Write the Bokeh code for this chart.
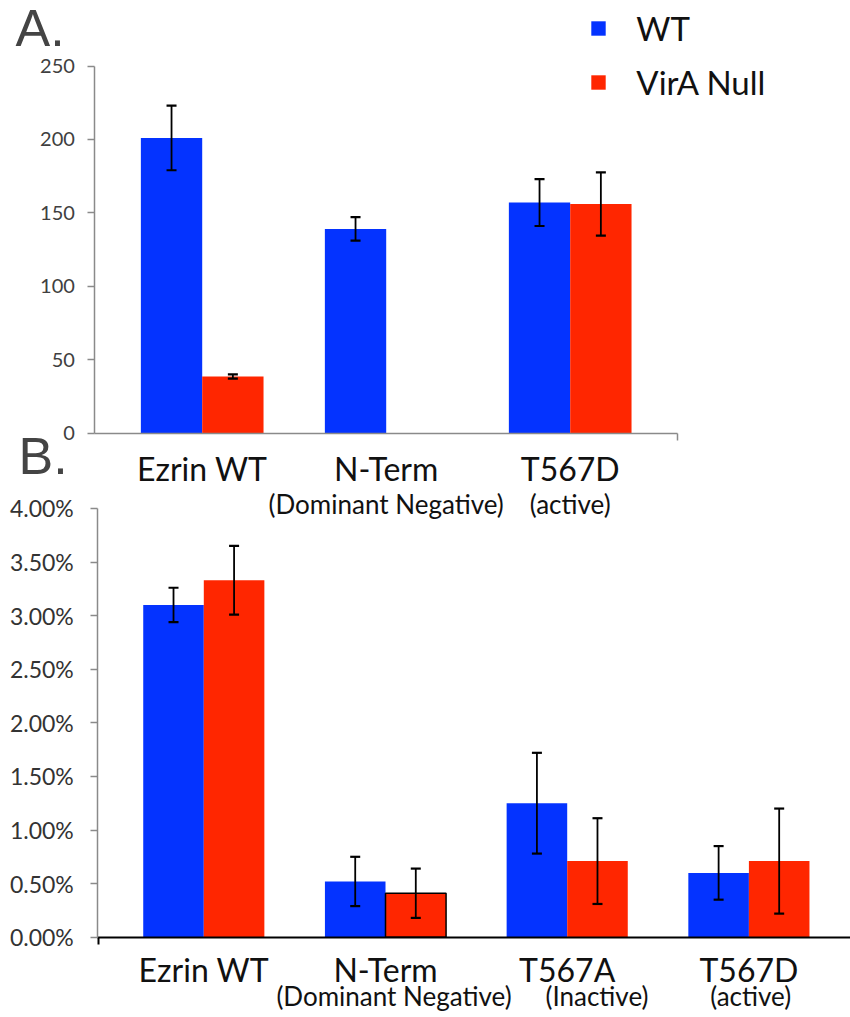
import math
from bokeh.plotting import figure
from bokeh.models import (Range1d, LinearAxis, FixedTicker, Legend, LegendItem,
                          Label, ColumnDataSource)
from bokeh.embed import file_html
from bokeh.resources import INLINE

nan = float("nan")

# ---------------- data ----------------
series_names = ["WT", "VirA Null"]

# Panel A
a_categories = ["Ezrin WT", "N-Term", "T567D"]
a_sublabels = ["", "(Dominant Negative)", "(active)"]
a_wt = [201.0, 139.0, 157.0]
a_wt_err = [22.0, 8.0, 16.0]
a_null = [38.5, nan, 156.0]
a_null_err = [1.5, nan, 21.5]
a_yticks = [0, 50, 100, 150, 200, 250]
a_ytick_labels = ["0", "50", "100", "150", "200", "250"]

# Panel B (percent)
b_categories = ["Ezrin WT", "N-Term", "T567A", "T567D"]
b_sublabels = ["", "(Dominant Negative)", "(Inactive)", "(active)"]
b_wt = [3.10, 0.52, 1.25, 0.60]
b_wt_err = [0.16, 0.23, 0.47, 0.25]
b_null = [3.33, 0.41, 0.71, 0.71]
b_null_err = [0.32, 0.23, 0.40, 0.49]
b_yticks = [0, 0.5, 1.0, 1.5, 2.0, 2.5, 3.0, 3.5, 4.0]
b_ytick_labels = ["0.00%", "0.50%", "1.00%", "1.50%", "2.00%", "2.50%",
                  "3.00%", "3.50%", "4.00%"]

# ---------------- styles / geometry ----------------
BLUE = "#0433FF"
RED = "#FF2600"
FONT = "Lato"
W, H = 850, 1016
OX, OY = 0, 0

A_X0, A_PPX = 201.7, 184.0     # page px of category 0 centre, px per category
A_Y0, A_PPY = 432.5, 1.468     # page px of value 0, px per unit
B_X0, B_PPX = 203.3, 181.7
B_Y0, B_PPY = 936.7, 107.2
BAR_W = 1.0 / 3.0
EDGE = 0.5 + 1.0 / 12.0        # axis overhang beyond the outer categories
LABEL_DROP = 23                # observed offset of alphabetic baseline labels


def xr(zero_page, ppu):
    z = zero_page - OX
    return Range1d(-z / ppu, (W - z) / ppu)


def yr(zero_page, ppu):
    z = zero_page - OY
    return Range1d(-(H - z) / ppu, z / ppu)


p = figure(width=W, height=H, x_range=xr(B_X0, B_PPX), y_range=yr(B_Y0, B_PPY),
           x_axis_location=None, y_axis_location=None, toolbar_location=None,
           output_backend="svg", min_border=0, title_location=None)
p.outline_line_color = None
p.background_fill_color = "white"
p.border_fill_color = "white"
p.grid.visible = False
p.extra_x_ranges = {"xa": xr(A_X0, A_PPX)}
p.extra_y_ranges = {"ya": yr(A_Y0, A_PPY)}

RA = dict(x_range_name="xa", y_range_name="ya")


def bars(cats, vals, offset, color, rn, line_alpha=None):
    xs = [i + offset for i in range(len(cats))]
    data = dict(x=xs, top=vals)
    kw = dict(line_color=None)
    if line_alpha is not None:
        data["la"] = line_alpha
        kw = dict(line_color="black", line_alpha="la", line_width=1.5)
    src = ColumnDataSource(data)
    return p.vbar(x="x", top="top", bottom=0, width=BAR_W, source=src,
                  fill_color=color, **kw, **rn)


def errbars(cats, vals, errs, offset, rn):
    xs = [i + offset for i in range(len(cats))]
    lo = [v - e for v, e in zip(vals, errs)]
    hi = [v + e for v, e in zip(vals, errs)]
    p.segment(x0=xs, y0=lo, x1=xs, y1=hi, line_color="black", line_width=1.8, **rn)
    p.scatter(x=xs + xs, y=lo + hi, marker="dash", size=10, line_color="black",
              line_width=2.2, **rn)


# Panel A bars
ra_wt = bars(a_categories, a_wt, -1 / 6, BLUE, RA)
ra_null = bars(a_categories, a_null, 1 / 6, RED, RA)
errbars(a_categories, a_wt, a_wt_err, -1 / 6, RA)
errbars(a_categories, a_null, a_null_err, 1 / 6, RA)

# Panel B bars (the N-Term VirA Null bar carries a dark outline)
RB = {}
bars(b_categories, b_wt, -1 / 6, BLUE, RB)
bars(b_categories, b_null, 1 / 6, RED, RB,
     line_alpha=[1.0 if c == "N-Term" else 0.0 for c in b_categories])
errbars(b_categories, b_wt, b_wt_err, -1 / 6, RB)
errbars(b_categories, b_null, b_null_err, 1 / 6, RB)


def axis(side, ticks, labels=None, **kw):
    ax = LinearAxis(ticker=FixedTicker(ticks=list(ticks), minor_ticks=[]), **kw)
    ax.minor_tick_line_color = None
    if labels is not None:
        ax.major_label_overrides = {t: l for t, l in zip(ticks, labels)}
    else:
        ax.major_label_text_color = None
    p.add_layout(ax, side)
    return ax


GRAY = "#8a8a8a"
na = len(a_categories)
nb = len(b_categories)

# ---- Panel A axes ----
axis("left", a_yticks, a_ytick_labels, fixed_location=-EDGE, bounds=(0, 250),
     axis_line_color=GRAY, axis_line_width=1.5, major_tick_line_color=GRAY,
     major_tick_line_width=1.5, major_tick_out=7, major_tick_in=0,
     major_label_text_font=FONT, major_label_text_font_size="20px",
     major_label_text_color="#404040", major_label_standoff=13, **RA)
axis("below", [na - 1 + EDGE - 0.002], None, fixed_location=0,
     bounds=(-EDGE, na - 1 + EDGE), axis_line_color=GRAY, axis_line_width=1.5,
     major_tick_line_color=GRAY, major_tick_line_width=1.5, major_tick_out=7,
     major_tick_in=0, **RA)
axis("below", list(range(na)), a_categories, fixed_location=0,
     axis_line_color=None, major_tick_line_color=None, major_tick_out=0,
     major_tick_in=0, major_label_standoff=16, major_label_text_font=FONT,
     major_label_text_font_size="32px", major_label_text_color="#111111", **RA)
a_sub_pos = [i for i, s in enumerate(a_sublabels) if s]
axis("below", a_sub_pos, [a_sublabels[i] for i in a_sub_pos], fixed_location=0,
     axis_line_color=None, major_tick_line_color=None, major_tick_out=0,
     major_tick_in=0, major_label_standoff=55, major_label_text_font=FONT,
     major_label_text_font_size="26px", major_label_text_color="#111111", **RA)

# ---- Panel B axes ----
axis("left", b_yticks, b_ytick_labels, fixed_location=-EDGE, bounds=(0, 4),
     axis_line_color=GRAY, axis_line_width=1.5, major_tick_line_color=GRAY,
     major_tick_line_width=1.5, major_tick_out=7, major_tick_in=0,
     major_label_text_font=FONT, major_label_text_font_size="23px",
     major_label_text_color="#333333", major_label_standoff=17)
axis("below", [-EDGE + 0.003], None, fixed_location=0,
     bounds=(-EDGE, nb - 1 + EDGE), axis_line_color="black", axis_line_width=2.2,
     major_tick_line_color="black", major_tick_line_width=2, major_tick_out=7,
     major_tick_in=0)
axis("below", list(range(nb)), b_categories, fixed_location=0,
     axis_line_color=None, major_tick_line_color=None, major_tick_out=0,
     major_tick_in=0, major_label_standoff=13, major_label_text_font=FONT,
     major_label_text_font_size="32px", major_label_text_color="#111111")
b_sub_shift = {1: 0.047, 2: 0.164, 3: 0.01}
b_sub_pos = [i for i, s in enumerate(b_sublabels) if s]
axis("below", [i + b_sub_shift[i] for i in b_sub_pos],
     [b_sublabels[i] for i in b_sub_pos], fixed_location=0,
     axis_line_color=None, major_tick_line_color=None, major_tick_out=0,
     major_tick_in=0, major_label_standoff=43, major_label_text_font=FONT,
     major_label_text_font_size="26px", major_label_text_color="#111111")

# ---- panel letters ----
p.add_layout(Label(x=(15 - A_X0) / A_PPX, y=(A_Y0 - (50 - LABEL_DROP)) / A_PPY,
                   text="A.", text_font="Liberation Sans", text_font_size="52px",
                   text_baseline="alphabetic", text_align="left", **RA))
p.add_layout(Label(x=(18 - B_X0) / B_PPX, y=(B_Y0 - (478.3 - LABEL_DROP)) / B_PPY,
                   text="B.", text_font="Liberation Sans", text_font_size="52px",
                   text_baseline="alphabetic", text_align="left"))

# ---- legend ----
LEG_H = 94
legend = Legend(items=[LegendItem(label=series_names[0], renderers=[ra_wt]),
                       LegendItem(label=series_names[1], renderers=[ra_null])],
                location=(589.3 - OX, H - (7.8 - OY) - LEG_H), orientation="vertical",
                glyph_width=18, glyph_height=18, label_standoff=29,
                label_height=40, spacing=14, padding=0, margin=0,
                label_text_font=FONT, label_text_font_size="33px",
                label_text_color="#111111", label_text_baseline="middle",
                border_line_color=None, background_fill_alpha=0)
p.add_layout(legend, "center")

open("out.html", "w").write(file_html(p, INLINE))
